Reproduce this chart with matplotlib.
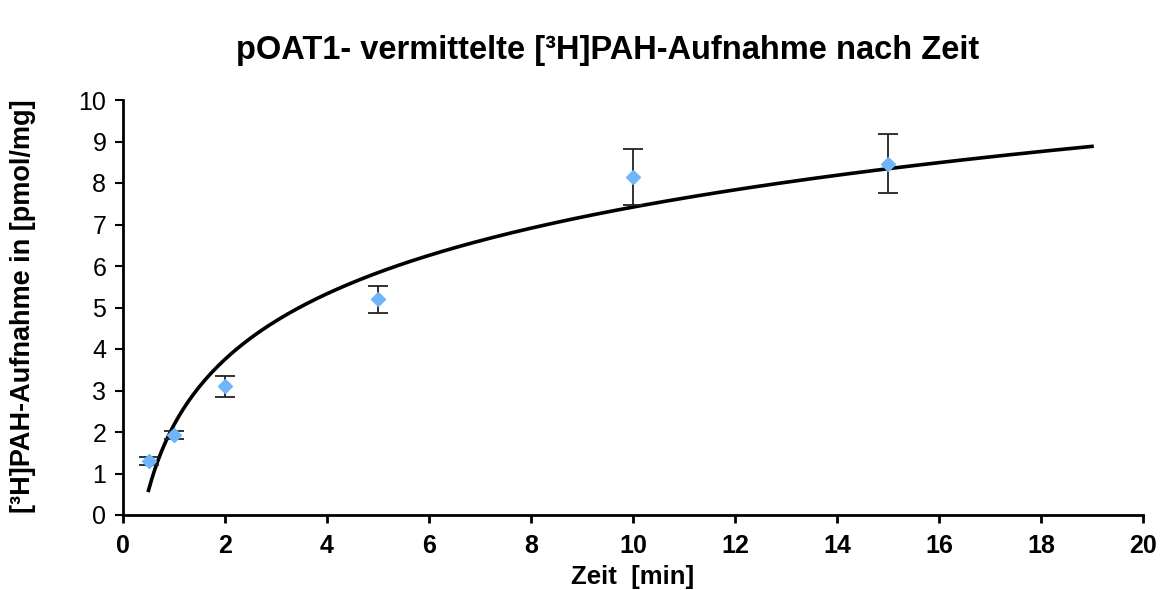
import numpy as np
import matplotlib.pyplot as plt

plt.rcParams["font.family"] = ["Liberation Sans", "DejaVu Sans"]

# measured data
zeit = [0.5, 1, 2, 5, 10, 15]
aufnahme = [1.30, 1.92, 3.10, 5.20, 8.14, 8.46]
fehler = [0.10, 0.10, 0.25, 0.33, 0.67, 0.71]

# logarithmic trendline range
trend_start = 0.5
trend_end = 19

x_ticks = list(range(0, 21, 2))
y_ticks = list(range(0, 11))

fig = plt.figure(figsize=(11.67, 5.9), dpi=100)
ax = fig.add_axes([123 / 1167, 1 - 515 / 590, (1143 - 123) / 1167, (515 - 100) / 590])

# log fit, y = a*ln(x) + b
a, b = np.polyfit(np.log(zeit), aufnahme, 1)
xt = np.linspace(trend_start, trend_end, 300)
ax.plot(xt, a * np.log(xt) + b, color="black", lw=2.6, zorder=2)

ax.errorbar(zeit, aufnahme, yerr=fehler, fmt="D", color="#6FB5F9", ms=7.5,
            mec="#6FB5F9", ecolor="#222222", elinewidth=1.3, capsize=7,
            capthick=1.3, zorder=3)

ax.set_xlim(0, 20)
ax.set_ylim(0, 10)
ax.set_xticks(x_ticks)
ax.set_yticks(y_ticks)
for lbl in ax.get_xticklabels():
    lbl.set_fontweight("bold")
ax.tick_params(axis="x", labelsize=18, width=2, length=6, direction="out", pad=8)
ax.tick_params(axis="y", labelsize=18, width=1.5, length=6, direction="out", pad=6)

for s in ["top", "right"]:
    ax.spines[s].set_visible(False)
for s in ["left", "bottom"]:
    ax.spines[s].set_linewidth(2)

fig.text(633 / 1167, 1 - 577 / 590, "Zeit  [min]", ha="center", va="center",
         fontsize=18.5, fontweight="bold")
fig.text(23 / 1167, 1 - 306 / 590, "[³H]PAH-Aufnahme in [pmol/mg]", rotation=90,
         ha="center", va="center", fontsize=19.5, fontweight="bold")
fig.text(608 / 1167, 1 - 50 / 590, "pOAT1- vermittelte [³H]PAH-Aufnahme nach Zeit",
         ha="center", va="center", fontsize=23.5, fontweight="bold")

fig.savefig("out.png", dpi=100)
